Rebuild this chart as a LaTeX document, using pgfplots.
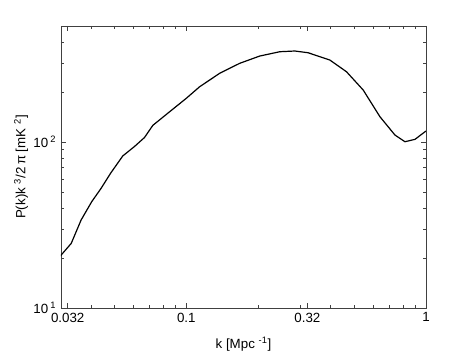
\documentclass[border=0pt]{standalone}
\usepackage{fontspec}
\setmainfont{Liberation Sans}
\usepackage{pgfplots}
\pgfplotsset{compat=1.18}

\pgfplotstableread{
k P
0.02983 20.6
0.0331 24.5
0.0364 33.9
0.0403 43.7
0.0441 52.6
0.0483 64.8
0.0543 82.4
0.0608 94
0.0669 106.4
0.0725 126
0.0852 152.2
0.1 183.4
0.1137 215.4
0.1378 259.4
0.167 297.9
0.2025 329.6
0.2455 349.9
0.2836 353.4
0.3222 345
0.397 311.9
0.466 265
0.547 205.7
0.6425 142
0.742 110.2
0.8172 100.4
0.900 103.8
1.0 116.5
}\spectrum

\begin{document}
\begin{tikzpicture}
\path[use as bounding box] (-45.75pt,-33.75pt) rectangle (307.5pt,231pt);
\begin{axis}[
  scale only axis,
  width=273.75pt,
  height=211.5pt,
  xmode=log, ymode=log,
  xmin=0.03, xmax=1,
  ymin=10, ymax=500,
  xtick={0.032,0.1,0.32,1},
  xticklabels={0.032,0.1,0.32,1},
  minor xtick={0.04,0.05,0.06,0.07,0.08,0.09,0.2,0.3,0.4,0.5,0.6,0.7,0.8,0.9},
  ytick={10,100},
  yticklabels={10\,\textsuperscript{1},10\,\textsuperscript{2}},
  minor ytick={20,30,40,50,60,70,80,90,200,300,400},
  tick align=inside,
  major tick length=3.5pt,
  minor tick length=2pt,
  axis line style={black!75},
  every tick/.style={black!75},
  tick label style={font=\fontsize{10}{12}\selectfont},
  label style={font=\fontsize{10}{12}\selectfont},
  xlabel={k [Mpc \textsuperscript{-1}]},
  ylabel={P(k)k \textsuperscript{3}/2\,π [mK \textsuperscript{2}]},
  xlabel style={yshift=-4.5pt},
  ylabel style={yshift=-3pt},
]
\addplot[black, line width=0.9pt] table[x=k,y=P] {\spectrum};
\end{axis}
\end{tikzpicture}
\end{document}
